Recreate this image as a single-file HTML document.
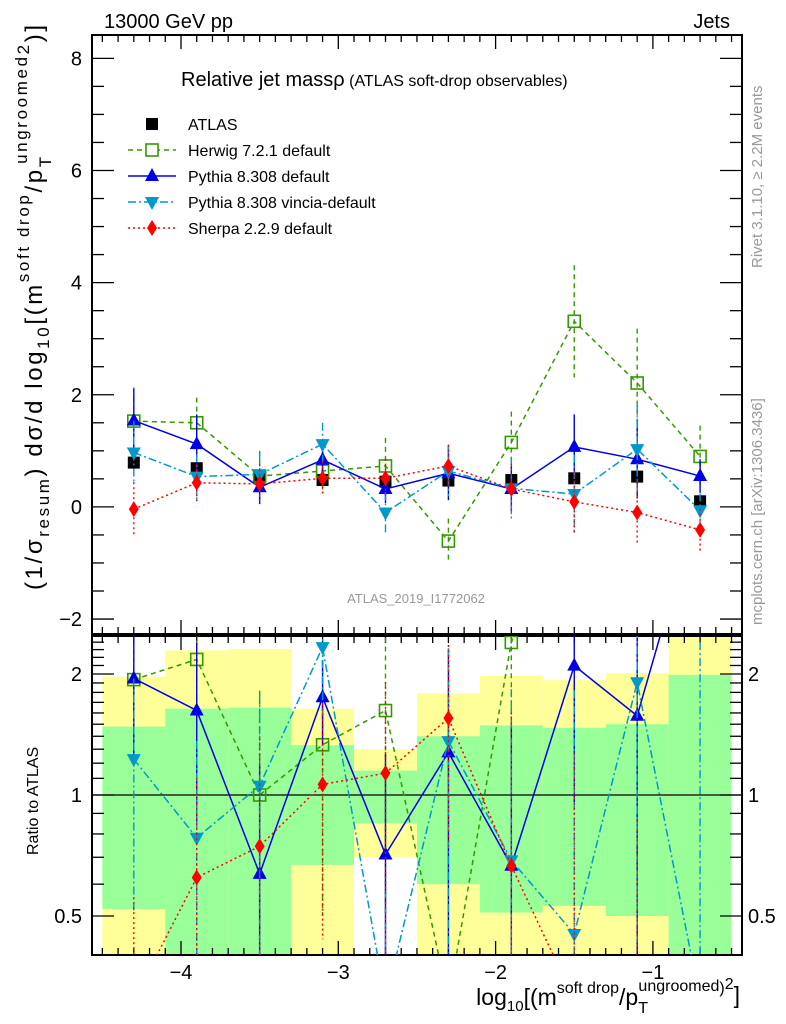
<!DOCTYPE html>
<html><head><meta charset="utf-8"><style>
html,body{margin:0;padding:0;background:#fff;overflow:hidden;}
svg{display:block;font-family:"Liberation Sans",sans-serif;}
</style></head><body>
<svg id="c" width="786" height="1024" viewBox="0 0 786 1024" xmlns="http://www.w3.org/2000/svg">
<defs>
<clipPath id="cm"><rect x="92" y="35" width="650" height="599"/></clipPath>
<clipPath id="cr"><rect x="92" y="636" width="650" height="319"/></clipPath>
</defs>
<text x="104" y="28" font-size="20">13000 GeV pp</text>
<text x="730" y="28" font-size="20" text-anchor="end">Jets</text>
<g id="bands" clip-path="url(#cr)"></g>
<g id="axes"></g>
<g id="series-main" clip-path="url(#cm)"></g>
<g id="series-ratio" clip-path="url(#cr)"></g>
<text x="181" y="86" font-size="20">Relative jet mass<tspan>ρ</tspan><tspan font-size="16"> (ATLAS soft-drop observables)</tspan></text>
<text x="416" y="603" font-size="13" fill="#999" text-anchor="middle">ATLAS_2019_I1772062</text>
<text transform="translate(762,625) rotate(-90)" font-size="15" fill="#999">mcplots.cern.ch [arXiv:1306.3436]</text>
<text transform="translate(762,268) rotate(-90)" font-size="15" fill="#999">Rivet 3.1.10, ≥ 2.2M events</text>
<text transform="translate(42,590) rotate(-90)" font-size="24" textLength="565" lengthAdjust="spacing">(1/σ<tspan font-size="17" dy="7">resum</tspan><tspan dy="-7">) dσ/d log</tspan><tspan font-size="17" dy="7">10</tspan><tspan dy="-7">[(m</tspan><tspan font-size="17" dy="-13">soft drop</tspan><tspan dy="13">/p</tspan><tspan font-size="17" dy="9">T</tspan><tspan font-size="17" dx="-9" dy="-24">ungroomed</tspan><tspan font-size="17" dy="2">2</tspan><tspan dy="13">)]</tspan></text>
<text transform="translate(38,855) rotate(-90)" font-size="16">Ratio to ATLAS</text>
<text x="740" y="1005" font-size="23" text-anchor="end">log<tspan font-size="15" dy="6">10</tspan><tspan dy="-6">[(m</tspan><tspan font-size="16" dy="-12">soft drop</tspan><tspan dy="12">/p</tspan><tspan font-size="16" dy="8">T</tspan><tspan font-size="16" dx="-9" dy="-22">ungroomed</tspan><tspan font-size="16" dy="2">)</tspan><tspan font-size="16" dy="-4">2</tspan><tspan dy="14">]</tspan></text>
<g id="legend"></g>
</svg>
<script>
const xCenters=[-4.3,-3.9,-3.5,-3.1,-2.7,-2.3,-1.9,-1.5,-1.1,-0.7];
const binEdges=[-4.5,-4.1,-3.7,-3.3,-2.9,-2.5,-2.1,-1.7,-1.3,-0.9,-0.5];
const atlasVals=[0.79,0.69,0.55,0.48,0.45,0.47,0.48,0.51,0.54,0.10];
const statErr=[0.48,0.64,0.65,0.33,0.15,0.40,0.49,0.47,0.50,0.99];
const totErr=[0.97,1.29,1.31,0.64,0.30,0.79,0.98,0.93,1.01,1.6];
const herwigVals=[1.53,1.50,0.55,0.64,0.73,-0.61,1.15,3.31,2.21,0.90];
const herwigErr=[0.6,0.45,0.45,0.4,0.5,0.4,0.55,1.0,0.97,0.55];
const pythiaVals=[1.54,1.12,0.35,0.84,0.32,0.60,0.32,1.07,0.85,0.55];
const pythiaErr=[0.57,0.53,0.3,0.2,0.25,0.48,0.4,0.58,0.7,0.3];
const vinciaVals=[0.97,0.54,0.58,1.12,-0.10,0.64,0.33,0.23,1.03,-0.06];
const vinciaErr=[0.57,0.4,0.4,0.38,0.36,0.45,0.55,0.7,0.8,0.3];
const sherpaVals=[-0.04,0.43,0.41,0.51,0.51,0.73,0.32,0.09,-0.10,-0.41];
const sherpaErr=[0.48,0.33,0.35,0.3,0.35,0.38,0.45,0.56,0.57,0.38];
const xTicks=[-4,-3,-2,-1];
const yTicks=[-2,0,2,4,6,8];
const rTicks=[0.5,1,2];

const NS='http://www.w3.org/2000/svg';
function X(v){return 181+(v+4)*157.3;}
function Y(v){return 506.9-v*56.07;}
function R(v){return 795-121*Math.log2(v);}
function mk(tag,attrs,parent){const e=document.createElementNS(NS,tag);for(const k in attrs)e.setAttribute(k,attrs[k]);parent.appendChild(e);return e;}
const axes=document.getElementById('axes');
const bands=document.getElementById('bands');
const sm=document.getElementById('series-main');
const sr=document.getElementById('series-ratio');
const lg=document.getElementById('legend');

for(let i=0;i<atlasVals.length;i++){
  const x0=X(binEdges[i]),x1=X(binEdges[i+1]);
  const lo=Math.max(1-totErr[i],0.2),hi=1+totErr[i];
  const y=mk('rect',{x:x0,y:R(hi),width:x1-x0,height:R(lo)-R(hi),fill:'#ffff99'},bands);
  
  
  const lo2=Math.max(1-statErr[i],0.2),hi2=1+statErr[i];
  const g=mk('rect',{x:x0,y:R(hi2),width:x1-x0,height:R(lo2)-R(hi2),fill:'#99ff99'},bands);
  
  
}

const f1=mk('rect',{x:92,y:35,width:650,height:599,fill:'none',stroke:'#000','stroke-width':2},axes);


const f2=mk('rect',{x:92,y:636,width:650,height:319,fill:'none',stroke:'#000','stroke-width':2},axes);


const one=mk('line',{x1:92,x2:742,y1:R(1),y2:R(1),stroke:'#000','stroke-width':1.3},axes);



for(let k=-45;k<=-5;k++){
  const v=k/10,x=X(v),maj=(k%10===0);
  const L=maj?14:7;
  for(const [yb,dir] of [[35,1],[634,-1],[636,1],[955,-1]]){
    mk('line',{x1:x,x2:x,y1:yb,y2:yb+dir*L,stroke:'#000','stroke-width':1.3},axes);
  }
}
xTicks.forEach(v=>{
  const t=mk('text',{x:X(v),y:979,'font-size':20,'text-anchor':'middle'},axes);
  t.textContent='\u2212'+Math.abs(v);
  
  
});
for(let k=-4;k<=17;k++){
  const v=k/2,y=Y(v);if(y<36||y>633)continue;
  const L=(k%4===0)?22:12;
  mk('line',{x1:92,x2:92+L,y1:y,y2:y,stroke:'#000','stroke-width':1.3},axes);
  mk('line',{x1:742,x2:742-L,y1:y,y2:y,stroke:'#000','stroke-width':1.3},axes);
}
yTicks.forEach(v=>{
  const t=mk('text',{x:82,y:Y(v)+7,'font-size':20,'text-anchor':'end'},axes);
  t.textContent=(v<0?'\u2212':'')+Math.abs(v);
  
  
});
const rminor=[0.4,0.5,0.6,0.7,0.8,0.9,1,1.1,1.2,1.3,1.4,1.5,1.6,1.7,1.8,1.9,2,2.1,2.2,2.3,2.4,2.5];
rminor.forEach(v=>{
  const y=R(v);const L=rTicks.includes(v)?22:12;
  mk('line',{x1:92,x2:92+L,y1:y,y2:y,stroke:'#000','stroke-width':1.3},axes);
  mk('line',{x1:742,x2:742-L,y1:y,y2:y,stroke:'#000','stroke-width':1.3},axes);
});
rTicks.forEach(v=>{
  for(const [x,a] of [[82,'end'],[748,'start']]){
    const t=mk('text',{x:x,y:R(v)+7,'font-size':20,'text-anchor':a},axes);
    t.textContent=String(v);
    
    
  }
});

function marker(type,x,y,col,parent){
  let e;
  if(type==='sq') e=mk('rect',{x:x-6,y:y-6,width:12,height:12,fill:'#000'},parent);
  else if(type==='osq') e=mk('rect',{x:x-6,y:y-6,width:12,height:12,fill:'none',stroke:col,'stroke-width':1.6},parent);
  else if(type==='tu') e=mk('polygon',{points:`${x},${y-8} ${x-7},${y+5} ${x+7},${y+5}`,fill:col},parent);
  else if(type==='td') e=mk('polygon',{points:`${x},${y+8} ${x-7},${y-5} ${x+7},${y-5}`,fill:col},parent);
  else e=mk('polygon',{points:`${x},${y-8} ${x-5},${y} ${x},${y+8} ${x+5},${y}`,fill:col},parent);
  return e;
}
const series=[
 {name:'herwig',label:'Herwig 7.2.1 default',vals:herwigVals,err:herwigErr,col:'#339900',dash:'5,4',m:'osq'},
 {name:'pythia',label:'Pythia 8.308 default',vals:pythiaVals,err:pythiaErr,col:'#0000e6',dash:'',m:'tu'},
 {name:'vincia',label:'Pythia 8.308 vincia-default',vals:vinciaVals,err:vinciaErr,col:'#0099cc',dash:'8,3,2,3',m:'td'},
 {name:'sherpa',label:'Sherpa 2.2.9 default',vals:sherpaVals,err:sherpaErr,col:'#ff0000',dash:'2,3',m:'dia'}
];
atlasVals.forEach((v,i)=>{
  const e=marker('sq',X(xCenters[i]),Y(v),'#000',sm);
  
  
});
series.forEach(s=>{
  for(const [grp,fn,vals,errs] of [[sm,Y,s.vals,s.err],[sr,R,s.vals.map((v,i)=>v/atlasVals[i]),s.err.map((e,i)=>e/atlasVals[i])]]){
    const safe=v=>fn===R?(v>0.05?Math.min(R(v),1000):1000):fn(v);
    vals.forEach((v,i)=>{
      const x=X(xCenters[i]);
      const b=mk('line',{x1:x,x2:x,y1:safe(v+errs[i]),y2:safe(v-errs[i]),stroke:s.col,'stroke-width':1.4,'stroke-dasharray':s.dash},grp);
      
      
    });
    const pts=vals.map((v,i)=>X(xCenters[i])+','+safe(v)).join(' ');
    const pl=mk('polyline',{points:pts,fill:'none',stroke:s.col,'stroke-width':1.5,'stroke-dasharray':s.dash},grp);
    
    
    vals.forEach((v,i)=>{
      const e=marker(s.m,X(xCenters[i]),safe(v),s.col,grp);
      
      
    });
  }
});
const rows=[{label:'ATLAS',m:'sq',col:'#000',dash:null}].concat(series.map(s=>({label:s.label,m:s.m,col:s.col,dash:s.dash})));
rows.forEach((r,i)=>{
  const y=124+i*26;
  if(r.dash!==null){
    const l=mk('line',{x1:128,x2:176,y1:y,y2:y,stroke:r.col,'stroke-width':1.4,'stroke-dasharray':r.dash},lg);
    
    
  }
  const m=marker(r.m,152,y,r.col,lg);
  if(r.m==='osq')m.setAttribute('fill','#fff');
  
  
  const t=mk('text',{x:188,y:y+6,'font-size':16},lg);
  t.textContent=r.label;
  
  
});
</script>
</body></html>
